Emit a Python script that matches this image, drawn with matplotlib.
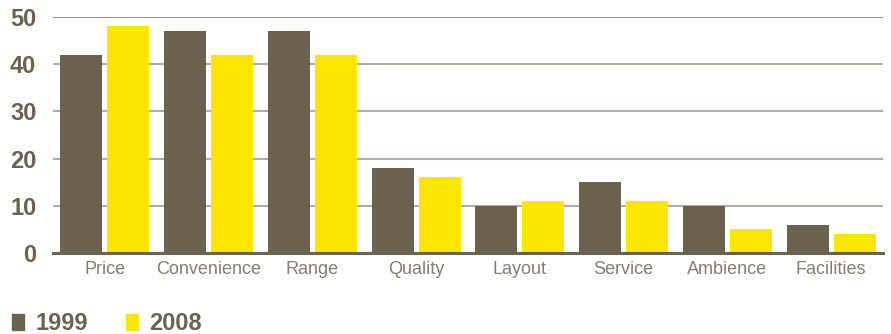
import numpy as np
import matplotlib
matplotlib.use("Agg")
from matplotlib import pyplot as plt
from matplotlib.patches import Patch

plt.rcParams['font.family'] = ['Liberation Sans', 'DejaVu Sans']

categories = ["Price", "Convenience", "Range", "Quality", "Layout", "Service", "Ambience", "Facilities"]
values_1999 = [42, 47, 47, 18, 10, 15, 10, 6]
values_2008 = [48, 42, 42, 16, 11, 11, 5, 4]
series_labels = ["1999", "2008"]

brown = "#6b6250"
yellow = "#fae600"
grid_col = "#b3ada2"
label_col = "#857d70"

fig = plt.figure(figsize=(8.91, 3.34), dpi=100)
ax = fig.add_axes([0.0595, 0.2425, 0.9315, 0.7065])

x = np.arange(len(categories))
w = 0.405
gap = 0.048
ax.bar(x - (w + gap) / 2, values_1999, width=w, color=brown, zorder=3)
ax.bar(x + (w + gap) / 2, values_2008, width=w, color=yellow, zorder=3)

ax.set_xlim(-0.5, len(categories) - 0.5)
ax.set_ylim(0, 50)
ax.set_yticks([0, 10, 20, 30, 40, 50])
for yv in [10, 20, 30, 40]:
    ax.axhline(yv, color=grid_col, lw=1.5, zorder=1)
ax.axhline(50, color="#857d70", lw=1.2, zorder=1)

for s in ["top", "right", "left"]:
    ax.spines[s].set_visible(False)
ax.spines["bottom"].set_color(brown)
ax.spines["bottom"].set_linewidth(2.2)
ax.spines["bottom"].set_zorder(4)

ax.set_xticks(x)
ax.set_xticklabels(categories, fontsize=13, color=label_col)
ax.tick_params(axis="x", length=0, pad=6)
ax.tick_params(axis="y", length=0, pad=12, labelsize=17, labelcolor=brown)
for t in ax.get_yticklabels():
    t.set_fontweight("bold")

handles = [Patch(color=brown), Patch(color=yellow)]
fig.legend(handles, series_labels, loc="lower left", bbox_to_anchor=(0.0135, -0.003), ncol=2,
           frameon=False, borderpad=0, borderaxespad=0, handlelength=0.5, handleheight=0.65,
           handletextpad=0.5, columnspacing=1.6, prop={"size": 17, "weight": "bold"},
           labelcolor=brown)

fig.savefig("out.png", dpi=100)
